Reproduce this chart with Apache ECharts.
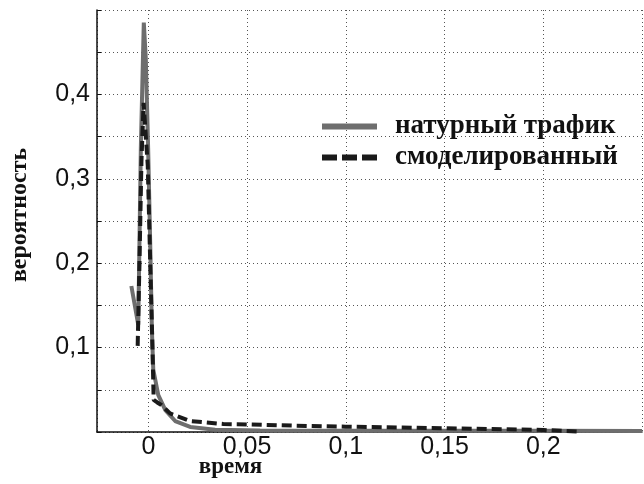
<!DOCTYPE html>
<html lang="ru">
  <head>
    <meta charset="UTF-8" />
    <title>вероятность</title>
    <style>
      html, body { margin: 0; padding: 0; background: #fff; }
      #chart { width: 644px; height: 484px; }
    </style>
  </head>
  <body>
    <div id="chart"></div>
    <script src="https://cdn.jsdelivr.net/npm/echarts@6/dist/echarts.min.js"></script>
    <script>
      // названия серий
      var seriesNames = ["натурный трафик", "смоделированный"];

      // натурный трафик: время / вероятность
      var realX = [-0.0086, -0.0051, -0.0038, -0.0023, -0.0013, -0.0001, 0.001, 0.0018, 0.0025, 0.005, 0.0086, 0.0136, 0.0212, 0.0338, 0.0566, 0.1, 0.15, 0.2, 0.25];
      var realY = [0.173, 0.127, 0.336, 0.485, 0.443, 0.336, 0.217, 0.121, 0.074, 0.044, 0.026, 0.013, 0.006, 0.0028, 0.0018, 0.0016, 0.0015, 0.0014, 0.0013];

      // смоделированный
      var modelX = [-0.0054, -0.0045, -0.0035, -0.0024, -0.0003, 0.001, 0.0019, 0.0027, 0.0045, 0.0066, 0.011, 0.021, 0.038, 0.05, 0.075, 0.1, 0.15, 0.2, 0.218];
      var modelY = [0.102, 0.2, 0.32, 0.39, 0.316, 0.196, 0.118, 0.038, 0.035, 0.032, 0.022, 0.013, 0.0095, 0.009, 0.0075, 0.0063, 0.0044, 0.0024, 0.0005];

      function pairs(xs, ys) {
        var res = [];
        for (var i = 0; i < xs.length; i++) res.push([xs[i], ys[i]]);
        return res;
      }

      function comma(v) {
        return String(v).replace(".", ",");
      }

      var myChart = echarts.init(document.getElementById("chart"));
      var option = {
        animation: false,
        backgroundColor: "#fff",
        grid: { left: 97, right: 2, top: 10, bottom: 52, containLabel: false, outerBoundsMode: "none" },
        legend: {
          orient: "vertical",
          left: 317,
          top: 108,
          itemWidth: 55,
          itemHeight: 6,
          itemGap: 4,
          textStyle: {
            fontFamily: "Liberation Serif",
            fontWeight: "bold",
            fontSize: 27,
            color: "#111",
            padding: [0, 0, 0, 13],
          },
          data: [
            { name: seriesNames[0], icon: "rect", itemStyle: { color: "#6e6e6e" } },
            {
              name: seriesNames[1],
              icon: "path://M0,0h15v6h-15z M20,0h15v6h-15z M40,0h15v6h-15z",
              itemStyle: { color: "#1a1a1a" },
            },
          ],
        },
        xAxis: {
          type: "value",
          min: -0.026,
          max: 0.25,
          minInterval: 0.05,
          maxInterval: 0.05,
          name: "время",
          nameLocation: "middle",
          nameMoveOverlap: false,
          nameGap: 24,
          nameTextStyle: {
            fontFamily: "Liberation Serif",
            fontWeight: "bold",
            fontSize: 23,
            color: "#111",
            padding: [0, 278, 0, 0],
          },
          axisLine: { onZero: false, lineStyle: { color: "#111", width: 1.5 } },
          axisTick: { show: false },
          axisLabel: {
            fontFamily: "Liberation Sans",
            fontSize: 25,
            color: "#111",
            margin: 3,
            formatter: function (v) {
              var k = Math.round(v / 0.05);
              if (Math.abs(v - k * 0.05) > 1e-6 || v < -1e-6 || v > 0.24) return "";
              return comma(Math.round(v * 100) / 100);
            },
          },
          splitLine: { show: true, lineStyle: { color: "#555", type: [1, 3], width: 1 } },
        },
        yAxis: {
          type: "value",
          min: 0,
          max: 0.5,
          interval: 0.05,
          name: "вероятность",
          nameLocation: "middle",
          nameMoveOverlap: false,
          nameGap: 65,
          nameTextStyle: {
            fontFamily: "Liberation Serif",
            fontWeight: "bold",
            fontSize: 24,
            color: "#111",
            padding: [0, 0, 0, 12],
          },
          axisLine: { show: true, onZero: false, lineStyle: { color: "#111", width: 1.5 } },
          axisTick: { show: true, inside: true, length: 4, lineStyle: { color: "#111" } },
          axisLabel: {
            fontFamily: "Liberation Sans",
            fontSize: 25,
            color: "#111",
            margin: 7,
            formatter: function (v) {
              var k = Math.round(v * 10);
              if (Math.abs(v * 10 - k) > 1e-6 || k <= 0 || k >= 5) return "";
              return comma(k / 10);
            },
          },
          splitLine: { show: true, lineStyle: { color: "#555", type: [1, 3], width: 1 } },
        },
        series: [
          {
            name: seriesNames[0],
            type: "line",
            data: pairs(realX, realY),
            showSymbol: false,
            symbol: "none",
            lineStyle: { color: "#6e6e6e", width: 4 },
            itemStyle: { color: "#6e6e6e" },
            z: 2,
          },
          {
            name: seriesNames[1],
            type: "line",
            data: pairs(modelX, modelY),
            showSymbol: false,
            symbol: "none",
            lineStyle: { color: "#1a1a1a", width: 4, type: [10, 5] },
            itemStyle: { color: "#1a1a1a" },
            z: 3,
          },
        ],
      };
      myChart.setOption(option);
      window.onresize = function () {
        myChart.resize();
      };
    </script>
  </body>
</html>
